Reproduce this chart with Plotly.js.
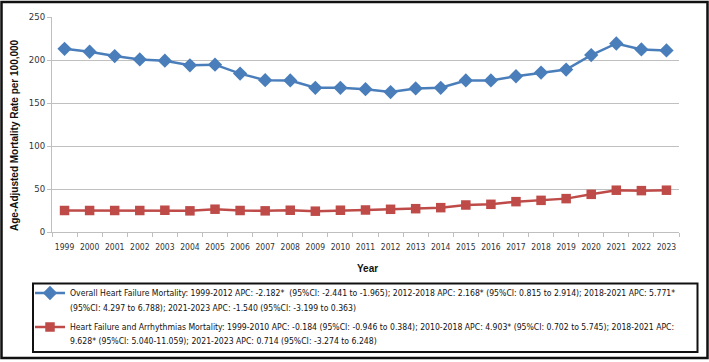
<!DOCTYPE html>
<html>
<head>
<meta charset="utf-8">
<script src="https://cdn.plot.ly/plotly-3.0.1.min.js"></script>
<style>html,body{margin:0;padding:0;background:#fff;}#chart{width:709px;height:362px;}</style>
</head>
<body>
<div id="chart"></div>
<script>
const years = ["1999","2000","2001","2002","2003","2004","2005","2006","2007","2008","2009","2010","2011","2012","2013","2014","2015","2016","2017","2018","2019","2020","2021","2022","2023"];
const overallHF = [213,209.6,204.6,200.7,199.2,193.8,194.6,184.2,176.5,176.2,167.7,167.7,166.1,162.7,166.9,167.7,176.2,176.2,181.1,185.4,188.9,205.7,219.2,212.3,211.1];
const hfArrhythmias = [25,25,25,25,25.3,24.6,26.5,25,24.6,25.3,24.2,25.3,25.6,26.4,27.1,28.3,31.4,32.2,35.3,36.8,38.8,43.8,48.6,48.1,48.6];
const yTicks = [0,50,100,150,200,250];
const overallLine1 = "Overall Heart Failure Mortality: 1999-2012 APC: -2.182*  (95%CI: -2.441 to -1.965); 2012-2018 APC: 2.168* (95%CI: 0.815 to 2.914); 2018-2021 APC: 5.771*";
const overallLine2 = "(95%CI: 4.297 to 6.788); 2021-2023 APC: -1.540 (95%CI: -3.199 to 0.363)";
const arrhLine1 = "Heart Failure and Arrhythmias Mortality: 1999-2010 APC: -0.184 (95%CI: -0.946 to 0.384); 2010-2018 APC: 4.903* (95%CI: 0.702 to 5.745); 2018-2021 APC:";
const arrhLine2 = "9.628* (95%CI: 5.040-11.059); 2021-2023 APC: 0.714 (95%CI: -3.274 to 6.248)";

const W = 709, H = 362;
const M = {l: 52, r: 30, t: 17, b: 130, autoexpand: false};
const pw = W - M.l - M.r, ph = H - M.t - M.b;
const px = x => (x - M.l) / pw;
const py = y => (H - M.b - y) / ph;

const FONT = "'DejaVu Sans Condensed', 'DejaVu Sans', sans-serif";
const LFS = 8.6;

const traces = [
  {x: years, y: overallHF, name: overallLine1, legend: 'legend', type: 'scatter', mode: 'lines+markers',
   line: {color: '#4a7ebb', width: 2.5}, marker: {symbol: 'diamond', size: 11, color: '#4a7ebb'}},
  {x: years, y: hfArrhythmias, name: arrhLine1, legend: 'legend2', type: 'scatter', mode: 'lines+markers',
   line: {color: '#be4b48', width: 2.5}, marker: {symbol: 'square', size: 9.5, color: '#be4b48'}}
];

const legBase = {xref: 'container', yref: 'container', xanchor: 'left', yanchor: 'middle',
  font: {family: FONT, size: LFS, color: '#111'}, bgcolor: 'rgba(0,0,0,0)', borderwidth: 0, itemwidth: 30};

const layout = {
  width: W, height: H, margin: M,
  paper_bgcolor: '#fff', plot_bgcolor: '#fff',
  font: {family: FONT, size: 9, color: '#222'},
  showlegend: true,
  legend: Object.assign({}, legBase, {x: 30/W, y: 1 - 293/H}),
  legend2: Object.assign({}, legBase, {x: 30/W, y: 1 - 327/H}),
  xaxis: {type: 'category', range: [-0.5, 24.5], tickson: 'boundaries', ticks: 'outside', ticklen: 4,
          tickcolor: '#bfbfbf', showline: true, linecolor: '#bfbfbf', linewidth: 1, showgrid: false,
          tickangle: 0, ticklabelstandoff: 7, tickfont: {family: FONT, size: 8.5, color: '#333'}, fixedrange: true},
  yaxis: {range: [0, 250], tickvals: yTicks, ticks: 'outside', ticklen: 4, tickcolor: '#bfbfbf',
          showline: true, linecolor: '#bfbfbf', linewidth: 1, showgrid: true, gridcolor: '#c0c0c0',
          gridwidth: 1, zeroline: false, tickfont: {family: FONT, size: 9.5, color: '#333'}, fixedrange: true},
  annotations: [
    {text: '<b>Age-Adjusted Mortality Rate per 100,000</b>', xref: 'paper', yref: 'paper',
     x: px(14), y: py(135), xanchor: 'center', yanchor: 'middle', textangle: -90, showarrow: false,
     font: {family: "Liberation Sans, Arial, sans-serif", size: 10, color: '#111'}},
    {text: '<b>Year</b>', xref: 'paper', yref: 'paper', x: px(367), y: py(268), xanchor: 'center', yanchor: 'middle',
     showarrow: false, font: {family: "Liberation Sans, Arial, sans-serif", size: 10, color: '#111'}},
    {text: overallLine2, xref: 'paper', yref: 'paper', x: px(68), y: py(308), xanchor: 'left', yanchor: 'middle',
     showarrow: false, font: {family: FONT, size: LFS, color: '#111'}},
    {text: arrhLine2, xref: 'paper', yref: 'paper', x: px(68), y: py(341), xanchor: 'left', yanchor: 'middle',
     showarrow: false, font: {family: FONT, size: LFS, color: '#111'}}
  ],
  shapes: [
    {type: 'rect', xref: 'paper', yref: 'paper', x0: px(1.5), x1: px(707.5), y0: py(358), y1: py(2),
     line: {color: '#111', width: 2.5}},
    {type: 'rect', xref: 'paper', yref: 'paper', x0: px(33), x1: px(697.5), y0: py(352), y1: py(283.5),
     line: {color: '#111', width: 2}}
  ]
};

Plotly.newPlot('chart', traces, layout, {displayModeBar: false, staticPlot: true});
</script>
</body>
</html>
